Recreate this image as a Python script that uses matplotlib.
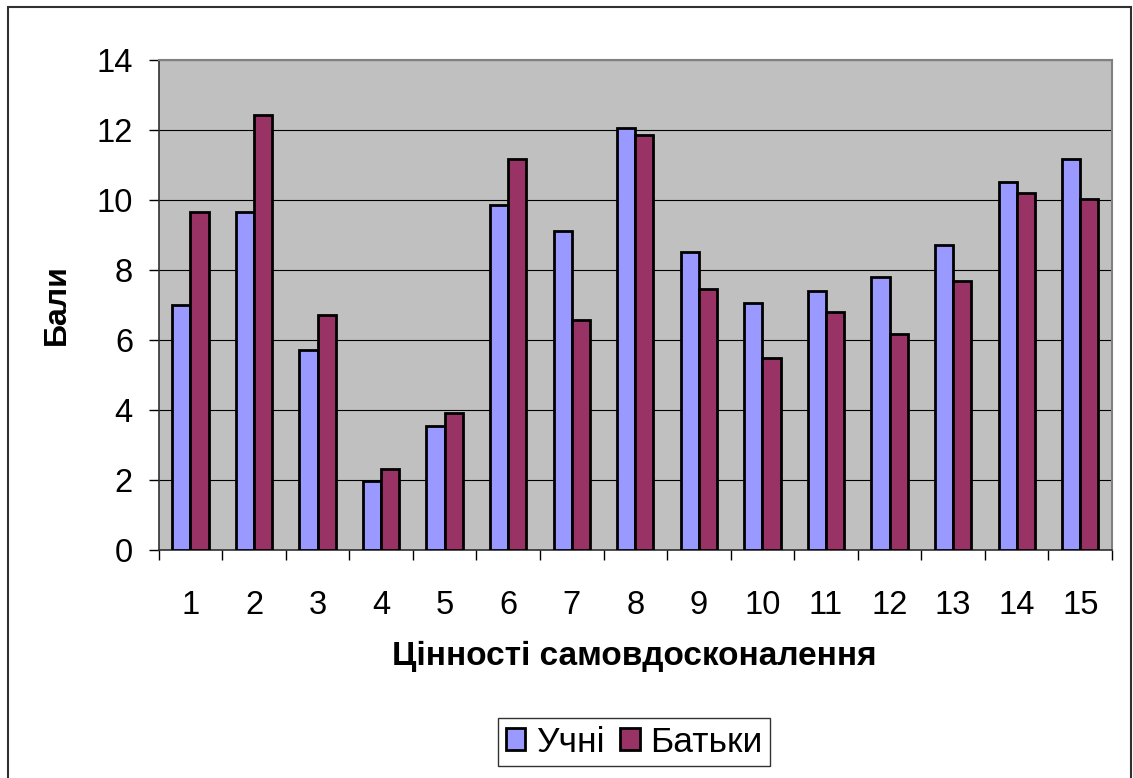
import matplotlib.pyplot as plt
from matplotlib.patches import Rectangle
import numpy as np

# Дані з діаграми
categories = [str(i) for i in range(1, 16)]
uchni = [7.0, 9.66, 5.70, 1.98, 3.55, 9.86, 9.10, 12.07, 8.50, 7.07, 7.40, 7.81, 8.71, 10.50, 11.18]
batky = [9.66, 12.42, 6.71, 2.32, 3.90, 11.18, 6.58, 11.87, 7.46, 5.48, 6.79, 6.17, 7.68, 10.21, 10.02]
y_ticks = [0, 2, 4, 6, 8, 10, 12, 14]

COLOR_UCHNI = "#9999FF"
COLOR_BATKY = "#993366"

plt.rcParams["font.family"] = ["Liberation Sans", "DejaVu Sans"]


def ve_bieu_do():
    fig = plt.figure(figsize=(11.33, 7.78), dpi=100)
    ax = fig.add_axes([0.140, 0.2931, 0.8415, 0.6298])

    x = np.arange(1, len(categories) + 1)
    w = 1 / 3.5
    ax.bar(x - w / 2, uchni, w, color=COLOR_UCHNI, edgecolor="black",
           linewidth=2.0, label="Учні", zorder=3)
    ax.bar(x + w / 2, batky, w, color=COLOR_BATKY, edgecolor="black",
           linewidth=2.0, label="Батьки", zorder=3)

    ax.set_facecolor("#C0C0C0")
    ax.set_xlim(0.5, 15.5)
    ax.set_ylim(0, 14)
    ax.set_yticks(y_ticks)
    ax.yaxis.grid(True, color="black", linewidth=0.8, zorder=1)
    ax.set_axisbelow(True)

    ax.set_xticks(x)
    ax.set_xticklabels(categories)
    ax.set_xticks(np.arange(0.5, 15.6, 1), minor=True)
    ax.tick_params(axis="x", which="major", length=0, pad=29, labelsize=23.5)
    ax.tick_params(axis="x", which="minor", length=7, width=1, direction="out")
    ax.tick_params(axis="y", length=7.5, width=1, pad=11, labelsize=23.5)

    for s in ["top", "right"]:
        ax.spines[s].set_color("#808080")
        ax.spines[s].set_linewidth(1.5)
    for s in ["left", "bottom"]:
        ax.spines[s].set_color("#303030")
        ax.spines[s].set_linewidth(1.2)

    ax.set_ylabel("Бали", fontsize=23, fontweight="bold", labelpad=18)
    fig.text(0.5596, 1 - 656 / 778, "Цінності самовдосконалення", fontsize=24,
             fontweight="bold", ha="center", va="center")

    leg = fig.legend(loc="center", bbox_to_anchor=(0.5596, 1 - 742 / 778), ncol=2,
                     fontsize=25.5, frameon=True, fancybox=False, handlelength=0.55,
                     handleheight=0.55, handletextpad=0.3, columnspacing=0.45,
                     borderpad=0.22, borderaxespad=0)
    leg.get_frame().set_edgecolor("black")
    leg.get_frame().set_linewidth(1)

    # рамка навколо всієї діаграми
    fig.patches.append(Rectangle((8 / 1133, -0.02), 1123 / 1133, 1.02 - 7 / 778,
                                 transform=fig.transFigure, fill=False,
                                 edgecolor="#303030", linewidth=1.5))

    fig.savefig("out.png", dpi=100)


if __name__ == "__main__":
    ve_bieu_do()
